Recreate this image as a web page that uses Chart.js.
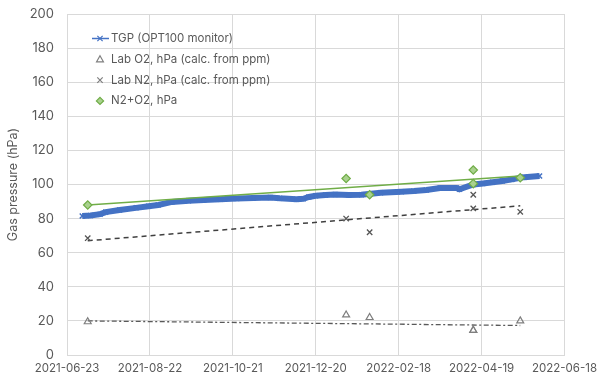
<!DOCTYPE html>
<html>
<head>
<meta charset="utf-8">
<script src="https://cdn.jsdelivr.net/npm/chart.js@4.4.0/dist/chart.umd.min.js"></script>
<style>
  html, body { margin: 0; padding: 0; background: #ffffff; }
  #wrap { width: 604px; height: 382px; position: relative; }
</style>
</head>
<body>
<div id="wrap"><canvas id="c"></canvas></div>
<script>
// Time axis: days counted from the first axis date
const START_DATE = '2021-06-23';
const xTickDays = [0, 60, 120, 180, 240, 300, 360];
const yTicks = [0, 20, 40, 60, 80, 100, 120, 140, 160, 180, 200];

// TGP from the OPT100 monitor (day offset, hPa)
const tgpDay = [11, 17, 24, 28, 38, 50, 59, 66, 76, 88, 99, 111, 123, 135, 147, 154, 166, 171, 175, 180,
                187, 194, 204, 213, 227, 242, 251, 260, 270, 282, 284, 294, 301, 308, 315, 322, 331, 342];
const tgpHpa = [81.5, 81.8, 82.6, 83.8, 85.0, 86.3, 87.2, 88.0, 89.8, 90.4, 90.9, 91.3, 91.8, 92.1, 92.4, 91.9, 91.3, 91.6, 92.7, 93.4,
                93.8, 94.2, 93.9, 94.0, 95.2, 95.8, 96.2, 96.8, 98.0, 98.0, 97.2, 100.0, 100.6, 101.3, 102.1, 103.0, 104.3, 105.0];

// Lab samples
const labDates = ['2021-07-08', '2022-01-11', '2022-01-28', '2022-04-13', '2022-04-13', '2022-05-17'];
const labO2  = [19.5, 23.5, 22.0, 14.5, 14.5, 20.0];
const labN2  = [68.5, 80.0, 72.0, 86.0, 94.0, 84.0];
const labSum = [88.0, 103.5, 94.0, 100.5, 108.5, 104.0];

// Linear trend lines (end points)
const trendDates = ['2021-07-08', '2022-05-17'];
const trendO2  = [20.0, 17.3];
const trendN2  = [67.0, 87.5];
const trendSum = [88.0, 105.0];

const DAY_MS = 86400000;
const t0 = Date.parse(START_DATE + 'T00:00:00Z');
const toDay = d => Math.round((Date.parse(d + 'T00:00:00Z') - t0) / DAY_MS);
const toLabel = v => new Date(t0 + v * DAY_MS).toISOString().slice(0, 10);
const pairs = (xs, ys) => xs.map((x, i) => ({ x: x, y: ys[i] }));

const BLUE = '#4472C4';
const GREY = '#7f7f7f';
const DARK = '#404040';
const GREEN = '#70AD47';
const GREEN_FILL = '#A9D18E';
const TEXT = '#595959';
const GRID = '#d9d9d9';
const FONT = 'Inter, "Open Sans", sans-serif';

const labX = labDates.map(toDay);
const trendX = trendDates.map(toDay);

// Draws a single marker shape for the legend
function drawMarker(ctx, style, x, y, r, stroke, fill) {
  ctx.save();
  ctx.strokeStyle = stroke;
  ctx.lineWidth = 1.2;
  ctx.beginPath();
  if (style === 'triangle') {
    ctx.moveTo(x, y - r);
    ctx.lineTo(x + r * 0.95, y + r * 0.7);
    ctx.lineTo(x - r * 0.95, y + r * 0.7);
    ctx.closePath();
    ctx.stroke();
  } else if (style === 'crossRot') {
    ctx.moveTo(x - r * 0.75, y - r * 0.75); ctx.lineTo(x + r * 0.75, y + r * 0.75);
    ctx.moveTo(x + r * 0.75, y - r * 0.75); ctx.lineTo(x - r * 0.75, y + r * 0.75);
    ctx.stroke();
  } else if (style === 'rectRot') {
    ctx.moveTo(x, y - r); ctx.lineTo(x + r, y); ctx.lineTo(x, y + r); ctx.lineTo(x - r, y);
    ctx.closePath();
    if (fill) { ctx.fillStyle = fill; ctx.fill(); }
    ctx.stroke();
  }
  ctx.restore();
}

const legendRows = [
  { text: 'TGP (OPT100 monitor)', kind: 'line' },
  { text: 'Lab O2, hPa (calc. from ppm)', kind: 'triangle', stroke: GREY },
  { text: 'Lab N2, hPa (calc. from ppm)', kind: 'crossRot', stroke: GREY },
  { text: 'N2+O2, hPa', kind: 'rectRot', stroke: GREEN, fill: GREEN_FILL }
];

const insideLegend = {
  id: 'insideLegend',
  afterDraw(chart) {
    const ctx = chart.ctx;
    const area = chart.chartArea;
    const mx = area.left + 33;   // marker centre
    const tx = area.left + 44;   // text start
    let y = area.top + 24.5;
    ctx.save();
    ctx.font = '11.5px ' + FONT;
    ctx.fillStyle = TEXT;
    ctx.textBaseline = 'middle';
    legendRows.forEach(row => {
      if (row.kind === 'line') {
        ctx.strokeStyle = BLUE;
        ctx.lineWidth = 1.5;
        ctx.beginPath();
        ctx.moveTo(mx - 8, y); ctx.lineTo(mx + 9, y);
        ctx.stroke();
        drawMarker(ctx, 'crossRot', mx, y, 3.5, BLUE);
      } else {
        drawMarker(ctx, row.kind, mx, y, 3.6, row.stroke, row.fill);
      }
      ctx.fillStyle = TEXT;
      ctx.fillText(row.text, tx, y);
      y += 20.8;
    });
    ctx.restore();
  }
};

new Chart(document.getElementById('c'), {
  type: 'scatter',
  data: {
    datasets: [
      {
        label: 'TGP (OPT100 monitor)',
        data: pairs(tgpDay, tgpHpa),
        showLine: true,
        borderColor: BLUE,
        backgroundColor: BLUE,
        borderWidth: 6,
        pointStyle: 'crossRot',
        pointRadius: 3.5,
        pointBorderWidth: 1.5,
        order: 10
      },
      {
        label: 'Lab O2 trend',
        data: pairs(trendX, trendO2),
        showLine: true,
        borderColor: '#595959',
        borderWidth: 1.3,
        borderDash: [5, 2.5, 2, 2.5],
        pointRadius: 0,
        order: 5
      },
      {
        label: 'Lab N2 trend',
        data: pairs(trendX, trendN2),
        showLine: true,
        borderColor: DARK,
        borderWidth: 1.5,
        borderDash: [5, 4],
        pointRadius: 0,
        order: 5
      },
      {
        label: 'N2+O2 trend',
        data: pairs(trendX, trendSum),
        showLine: true,
        borderColor: GREEN,
        borderWidth: 1.5,
        pointRadius: 0,
        order: 4
      },
      {
        label: 'Lab O2, hPa (calc. from ppm)',
        data: pairs(labX, labO2),
        pointStyle: 'triangle',
        pointRadius: 4,
        pointBorderWidth: 1.2,
        borderColor: GREY,
        backgroundColor: 'rgba(255,255,255,0)',
        order: 1
      },
      {
        label: 'Lab N2, hPa (calc. from ppm)',
        data: pairs(labX, labN2),
        pointStyle: 'crossRot',
        pointRadius: 3.8,
        pointBorderWidth: 1.3,
        borderColor: '#555555',
        order: 1
      },
      {
        label: 'N2+O2, hPa',
        data: pairs(labX, labSum),
        pointStyle: 'rectRot',
        pointRadius: 4.2,
        pointBorderWidth: 1.2,
        borderColor: GREEN,
        backgroundColor: GREEN_FILL,
        order: 1
      }
    ]
  },
  options: {
    responsive: true,
    maintainAspectRatio: false,
    animation: false,
    events: [],
    layout: { padding: { top: 14, right: 30, left: 0, bottom: 0 } },
    plugins: {
      legend: { display: false },
      tooltip: { enabled: false }
    },
    scales: {
      x: {
        type: 'linear',
        min: 0,
        max: 360,
        afterBuildTicks: s => { s.ticks = xTickDays.map(v => ({ value: v })); },
        afterFit: s => { s.height = 27; },
        grid: { color: GRID, drawTicks: false },
        border: { color: GRID },
        ticks: {
          padding: 7,
          color: TEXT,
          font: { family: FONT, size: 11.5 },
          maxRotation: 0,
          autoSkip: false,
          callback: v => toLabel(v)
        }
      },
      y: {
        min: 0,
        max: 200,
        afterBuildTicks: s => { s.ticks = yTicks.map(v => ({ value: v })); },
        afterFit: s => { s.width = 67; },
        grid: { color: GRID, drawTicks: true, tickLength: 10, tickColor: 'rgba(0,0,0,0)' },
        border: { color: GRID },
        ticks: {
          padding: 3,
          color: TEXT,
          font: { family: FONT, size: 13 }
        },
        title: {
          display: true,
          text: 'Gas pressure (hPa)',
          color: TEXT,
          font: { family: FONT, size: 12.5 },
          padding: { top: 6, bottom: 0 }
        }
      }
    }
  },
  plugins: [insideLegend]
});
</script>
</body>
</html>
